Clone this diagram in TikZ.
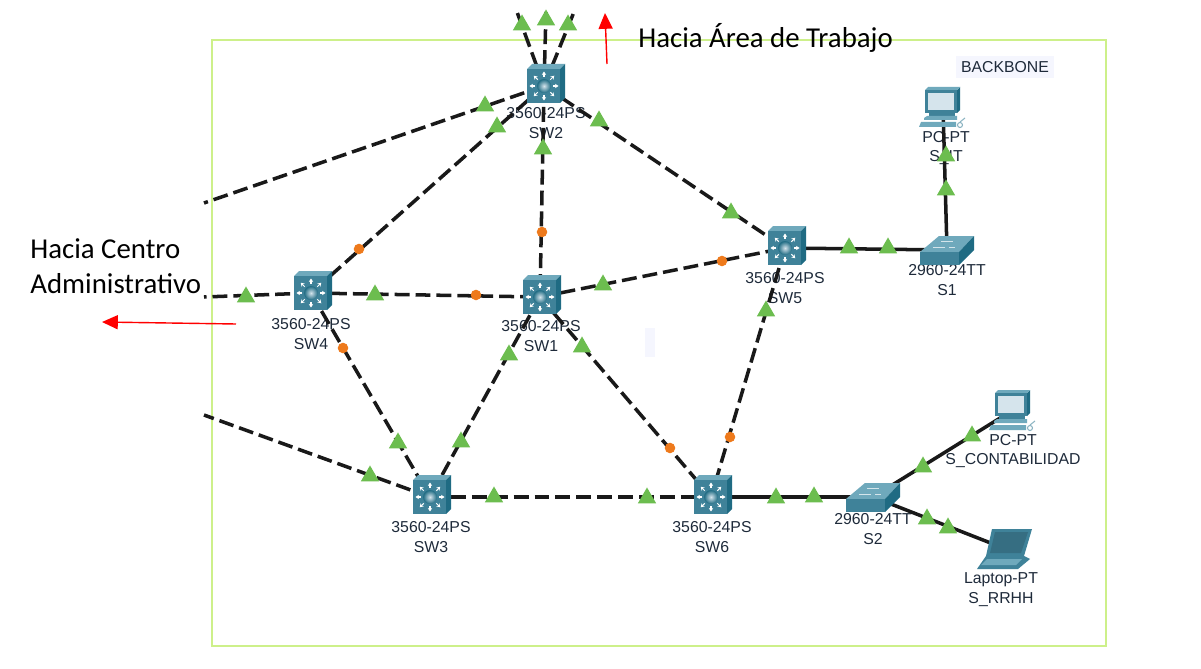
\documentclass[tikz,border=0pt]{standalone}
\usepackage{fontspec}
\setmainfont{Liberation Sans}
\newfontfamily\notefont{Carlito}
\usepackage{xcolor}
\usetikzlibrary{arrows.meta,positioning,shapes.geometric}
\definecolor{pkFrame}{HTML}{CDF08A}
\definecolor{pkGreen}{HTML}{6CBD4F}
\definecolor{pkOrange}{HTML}{EE7A1C}
\definecolor{pkFront}{HTML}{3F8299}
\definecolor{pkTop}{HTML}{6FA9BC}
\definecolor{pkSide}{HTML}{1F6B83}
\definecolor{pkPale}{HTML}{D5E4EC}
\definecolor{pkInk}{HTML}{1E2A3A}
\definecolor{pkLabel}{HTML}{F5F6FE}
\tikzset{
  devlabel/.style={align=center,text=pkInk,inner sep=0pt,font=\fontsize{9}{11.3}\selectfont},
  notelabel/.style={align=left,anchor=west,inner sep=0pt,text=black,font=\notefont\fontsize{16.4}{20}\selectfont},
  trunk/.style={line width=2pt,black!90,dash pattern=on 8.5pt off 3.4pt},
  access/.style={line width=2pt,black!90},
  redarrow/.style={red,line width=0.8pt,-{Triangle[length=9pt,width=8pt]}},
  linkup/.style={regular polygon,regular polygon sides=3,fill=pkGreen,inner sep=0pt,minimum size=12pt},
  linkwait/.style={circle,fill=pkOrange,inner sep=0pt,minimum size=6pt},
  mlswitch/.pic={
    \fill[pkTop] (-17,-17) -- (-12,-22) -- (21,-22) -- (16,-17) -- cycle;
    \fill[pkSide] (16,-17) -- (21,-22) -- (21,12) -- (16,17) -- cycle;
    \fill[pkFront] (-17,-17) rectangle (16,17);
    \foreach \a in {0,45,...,315}
      \draw[white,line width=0.6pt,-{Stealth[length=2pt,width=2.5pt]}]
        (\a:9) -- (\a:14.5);
    \shade[inner color=pkPale,outer color=pkSide] (0,0) circle (7);
  },
  flatswitch/.pic={
    \fill[pkTop] (-27,2) -- (-8,-14) -- (27,-14) -- (12,2) -- cycle;
    \fill[pkFront] (-27,2) rectangle (12,15);
    \fill[pkSide] (12,2) -- (27,-14) -- (27,0) -- (12,15) -- cycle;
    \draw[white!70!pkTop,line width=0.5pt] (-14,-3) -- (-2,-3) (-6,-9) -- (6,-9) (2,-3) -- (8,-3);
  },
  desktop/.pic={
    \fill[pkSide] (14,-17) -- (17,-20) -- (17,3) -- (14,6) -- cycle;
    \fill[pkTop] (-18,-17) -- (-15,-20) -- (17,-20) -- (14,-17) -- cycle;
    \fill[pkFront] (-18,-17) rectangle (14,6);
    \fill[pkPale] (-15,-14) rectangle (11,3);
    \fill[pkFront] (-14,6) rectangle (12,11);
    \fill[pkTop] (-19,11) -- (-16,9) -- (14,9) -- (14,13) -- (-19,13) -- cycle;
    \fill[pkTop] (-22,15) -- (13,15) -- (13,20) -- (-24,20) -- cycle;
    \draw[pkFront!60,line width=0.6pt] (17,15) -- (22,11) (17,18) circle (2.5);
  },
  laptop/.pic={
    \fill[pkFront] (-14,-20) -- (26,-20) -- (18,7) -- (-20,7) -- cycle;
    \fill[pkFront!85!black] (-11,-17) -- (22,-17) -- (15,4) -- (-16,4) -- cycle;
    \fill[pkFront] (-20,7) -- (18,7) -- (24,10) -- (12,20) -- (-29,20) -- cycle;
    \fill[pkTop] (-19,10) -- (16,10) -- (10,16) -- (-25,16) -- cycle;
  }
}

\begin{document}
\begin{tikzpicture}[x=0.02cm,y=-0.02cm]
  \useasboundingbox (0,0) rectangle (1201,669);
  \fill[white] (0,0) rectangle (1201,669);
  \draw[pkFrame,line width=0.9pt] (212,40) rectangle (1106,646);
  \fill[pkLabel] (645,328) rectangle (655,357);

  % device positions
  \coordinate (SW2) at (544,86);
  \coordinate (SW1) at (540,297);
  \coordinate (SW4) at (311,293);
  \coordinate (SW5) at (785,248);
  \coordinate (SW3) at (430,497);
  \coordinate (SW6) at (711,497);
  \coordinate (S1) at (947,250);
  \coordinate (S2) at (873,497);
  \coordinate (PCit) at (943,107);
  \coordinate (PCcont) at (1013,410);
  \coordinate (LTrrhh) at (1006,549);

  % free ends of the links
  \coordinate (upA) at (517,12);
  \coordinate (upB) at (546,12);
  \coordinate (upC) at (574,12);
  \coordinate (westA) at (204,203);
  \coordinate (westB) at (204,297);
  \coordinate (westC) at (204,415);
  \coordinate (redAfrom) at (607,64);
  \coordinate (redAto) at (605,13);
  \coordinate (redBfrom) at (236,324);
  \coordinate (redBto) at (102,322);

  % labels
  \node[devlabel] (lblSW2) at (546,123) {3560-24PS\\SW2};
  \node[devlabel] (lblSW1) at (541,336) {3560-24PS\\SW1};
  \node[devlabel] (lblSW4) at (311,334) {3560-24PS\\SW4};
  \node[devlabel] (lblSW5) at (785,288) {3560-24PS\\SW5};
  \node[devlabel] (lblSW3) at (431,537) {3560-24PS\\SW3};
  \node[devlabel] (lblSW6) at (712,537) {3560-24PS\\SW6};
  \node[devlabel] (lblS1) at (947,280) {2960-24TT\\S1};
  \node[devlabel] (lblS2) at (873,529) {2960-24TT\\S2};
  \node[devlabel] (lblPCit) at (946,148) {PC-PT\\S\_IT};
  \node[devlabel] (lblPCcont) at (1013,451) {PC-PT\\S\_CONTABILIDAD};
  \node[devlabel] (lblLTrrhh) at (1001,590) {Laptop-PT\\S\_RRHH};
  \node[devlabel,fill=pkLabel,inner xsep=3pt,inner ysep=3pt] (lblBackbone) at (1005,67) {BACKBONE};
  \node[notelabel] (noteCentro) at (30,266) {Hacia Centro\\Administrativo};
  \node[notelabel] (noteTrabajo) at (638,38) {Hacia Área de Trabajo};

  % links
  \foreach \from/\to in {SW2/upA,SW2/upB,SW2/upC,SW2/westA,SW2/SW4,SW2/SW1,SW2/SW5,
      SW4/westB,SW4/SW1,SW1/SW5,SW4/SW3,SW1/SW3,SW1/SW6,SW5/SW6,SW3/westC,SW3/SW6}
    \draw[trunk] (\from) -- (\to);
  \foreach \from/\to in {SW5/S1,SW6/S2,S1/PCit,S2/PCcont,S2/LTrrhh}
    \draw[access] (\from) -- (\to);
  \draw[redarrow] (redAfrom) -- (redAto);
  \draw[redarrow] (redBfrom) -- (redBto);

  % link lights
  \foreach \n/\x/\y in {a/522/25,b/546/20,c/568/25,d/485/106,e/497/127,f/543/149,g/599/121,
      h/731/213,i/246/297,j/375/295,k/603/285,l/398/443,m/509/355,n/461/442,o/582/347,
      p/766/311,q/370/476,r/494/497,s/647/498,t/776/498,u/814/497,v/849/248,w/888/248,
      x/946/190,y/946/156,z/923/467,aa/972/436,ab/927/519,ac/948/528}
    \node[linkup] (up\n) at (\x,\y) {};
  \foreach \n/\x/\y in {a/359/249,b/542/232,c/476/295,d/722/261,e/343/348,f/670/448,g/730/437}
    \node[linkwait] (wait\n) at (\x,\y) {};

  % devices
  \foreach \p in {SW2,SW1,SW4,SW5,SW3,SW6}
    \pic at (\p) {mlswitch};
  \foreach \p in {S1,S2}
    \pic at (\p) {flatswitch};
  \foreach \p in {PCit,PCcont}
    \pic at (\p) {desktop};
  \pic at (LTrrhh) {laptop};
\end{tikzpicture}
\end{document}
